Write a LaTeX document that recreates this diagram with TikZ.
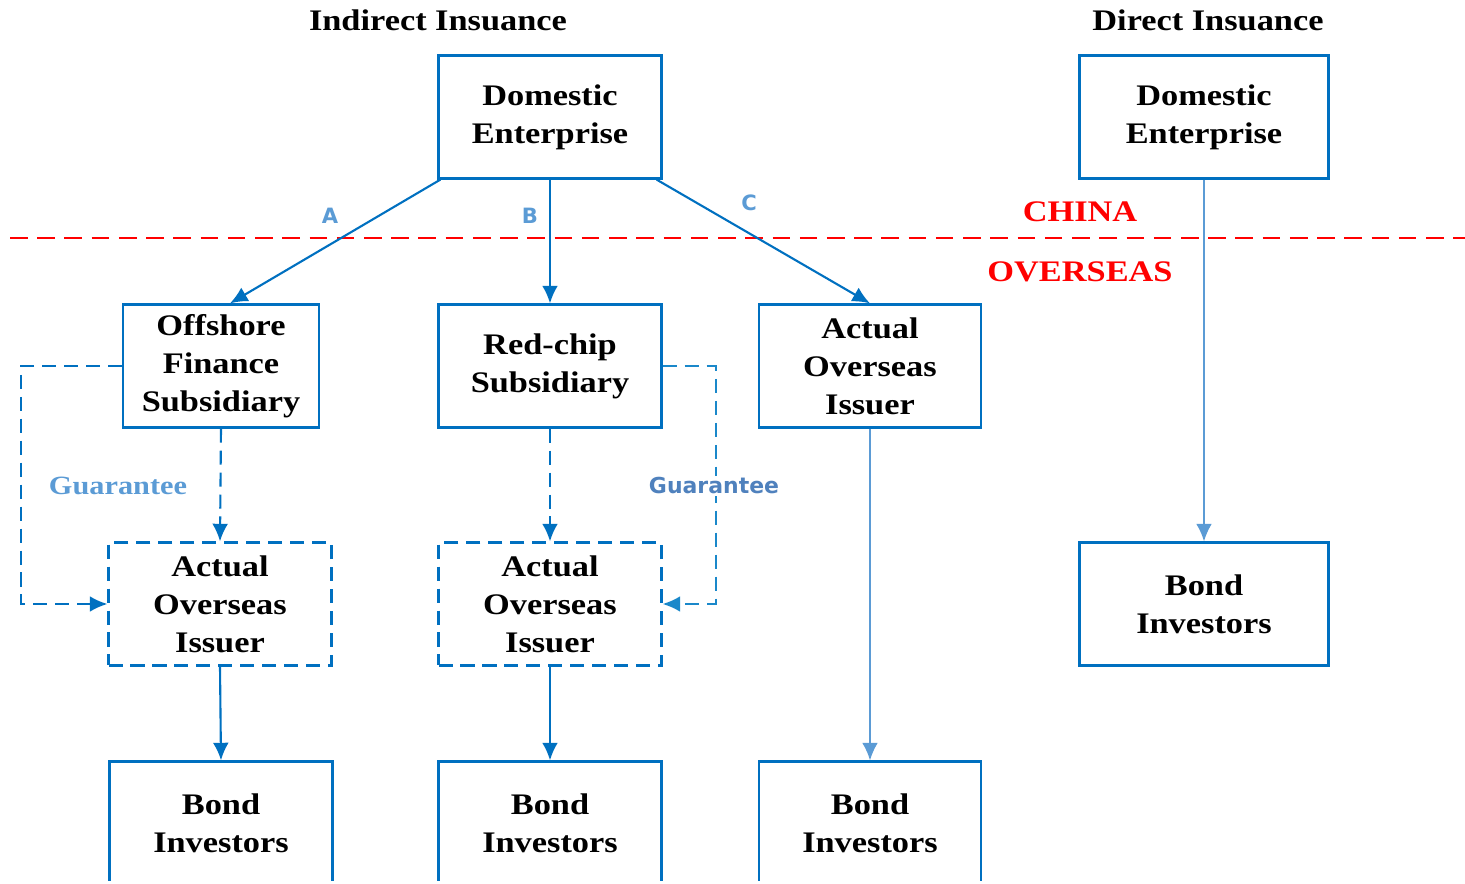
\documentclass[tikz,border=0pt]{standalone}
\usepackage{fontspec}
\setmainfont{Liberation Serif}[FakeStretch=1.15]
\newfontfamily\tagfont{DejaVu Sans}
\usetikzlibrary{arrows.meta}
\definecolor{boxblue}{HTML}{0070C0}
\definecolor{lineblue}{HTML}{5B9BD5}
\definecolor{rightblue}{HTML}{1A88CA}
\definecolor{guarblue}{HTML}{4F81BD}

\begin{document}
\begin{tikzpicture}[x=0.02cm, y=-0.02cm,
    box/.style={draw=boxblue, line width=1.3pt, fill=white, minimum height=2.46cm,
                inner sep=0pt, align=center, font=\fontsize{17}{21.6}\selectfont\bfseries},
    dbox/.style={box, dash pattern=on 8pt off 4.5pt},
    link/.style={draw=boxblue, line width=1.2pt, -{Latex[length=10pt,width=9pt]}},
    thinlink/.style={link, draw=lineblue, line width=1pt},
    guar/.style={link, dash pattern=on 8pt off 4.5pt},
    title/.style={font=\fontsize{17}{21.6}\selectfont\bfseries},
    region/.style={font=\fontsize{17}{21.6}\selectfont\bfseries, text=red},
    tag/.style={font=\fontsize{12}{14}\selectfont\tagfont\bfseries, text=lineblue}
  ]
  \useasboundingbox (0,0) rectangle (1465,884);
  \clip (0,0) rectangle (1465,881);

  % titles
  \node[title] (tind) at (438,20) {Indirect Insuance};
  \node[title] (tdir) at (1208,20) {Direct Insuance};

  % border between china and overseas
  \coordinate (bl) at (10,238);
  \coordinate (br) at (1465,238);
  \draw[red, line width=1.2pt, dash pattern=on 10pt off 5.5pt] (bl) -- (br);
  \node[region] (china) at (1080,212) {CHINA};
  \node[region] (overseas) at (1080,272) {OVERSEAS};

  % indirect issuance
  \node[box, minimum width=4.46cm] (dom) at (550,117) {Domestic\\Enterprise};
  \node[box, minimum width=3.92cm] (off) at (221,366) {Offshore\\Finance\\Subsidiary};
  \node[box, minimum width=4.46cm] (redchip) at (550,366) {Red-chip\\Subsidiary};
  \node[box, minimum width=4.44cm] (act) at (870,366) {Actual\\Overseas\\Issuer};
  \node[dbox, minimum width=4.46cm] (aoiA) at (220,604) {Actual\\Overseas\\Issuer};
  \node[dbox, minimum width=4.46cm] (aoiB) at (550,604) {Actual\\Overseas\\Issuer};
  \node[box, minimum width=4.46cm] (invA) at (221,823) {Bond\\Investors};
  \node[box, minimum width=4.46cm] (invB) at (550,823) {Bond\\Investors};
  \node[box, minimum width=4.44cm] (invC) at (870,823) {Bond\\Investors};

  % direct issuance
  \node[box, minimum width=4.98cm] (dom2) at (1204,117) {Domestic\\Enterprise};
  \node[box, minimum width=4.98cm] (inv2) at (1204,604) {Bond\\Investors};

  \draw[link] ([xshift=0.06cm]dom.south west) -- ([xshift=0.18cm]off.north);
  \draw[link] (dom.south) -- (redchip.north);
  \draw[link] ([xshift=-0.12cm]dom.south east) -- (act.north);
  \node[tag] (ta) at (330,216) {A};
  \node[tag] (tb) at (530,216) {B};
  \node[tag] (tc) at (749,203) {C};

  \draw[guar] (off.south) -- (aoiA.north);
  \draw[guar] (off.west) -- ++(-101,0) |- (aoiA.west);
  \draw[guar] (redchip.south) -- (aoiB.north);
  \draw[guar, draw=rightblue] (redchip.east) -- ++(53,0) |- (aoiB.east);
  \node[font=\fontsize{15}{18}\selectfont\bfseries, text=lineblue] (gl) at (118,486) {Guarantee};
  \node[font=\fontsize{12.5}{15}\selectfont\tagfont\bfseries, text=guarblue, fill=white, inner sep=1pt] (gr) at (714,486) {Guarantee};

  \draw[link] (aoiA.south) -- (invA.north);
  \draw[link] (aoiB.south) -- (invB.north);
  \draw[thinlink] (act.south) -- (invC.north);
  \draw[thinlink] (dom2.south) -- (inv2.north);
\end{tikzpicture}
\end{document}
